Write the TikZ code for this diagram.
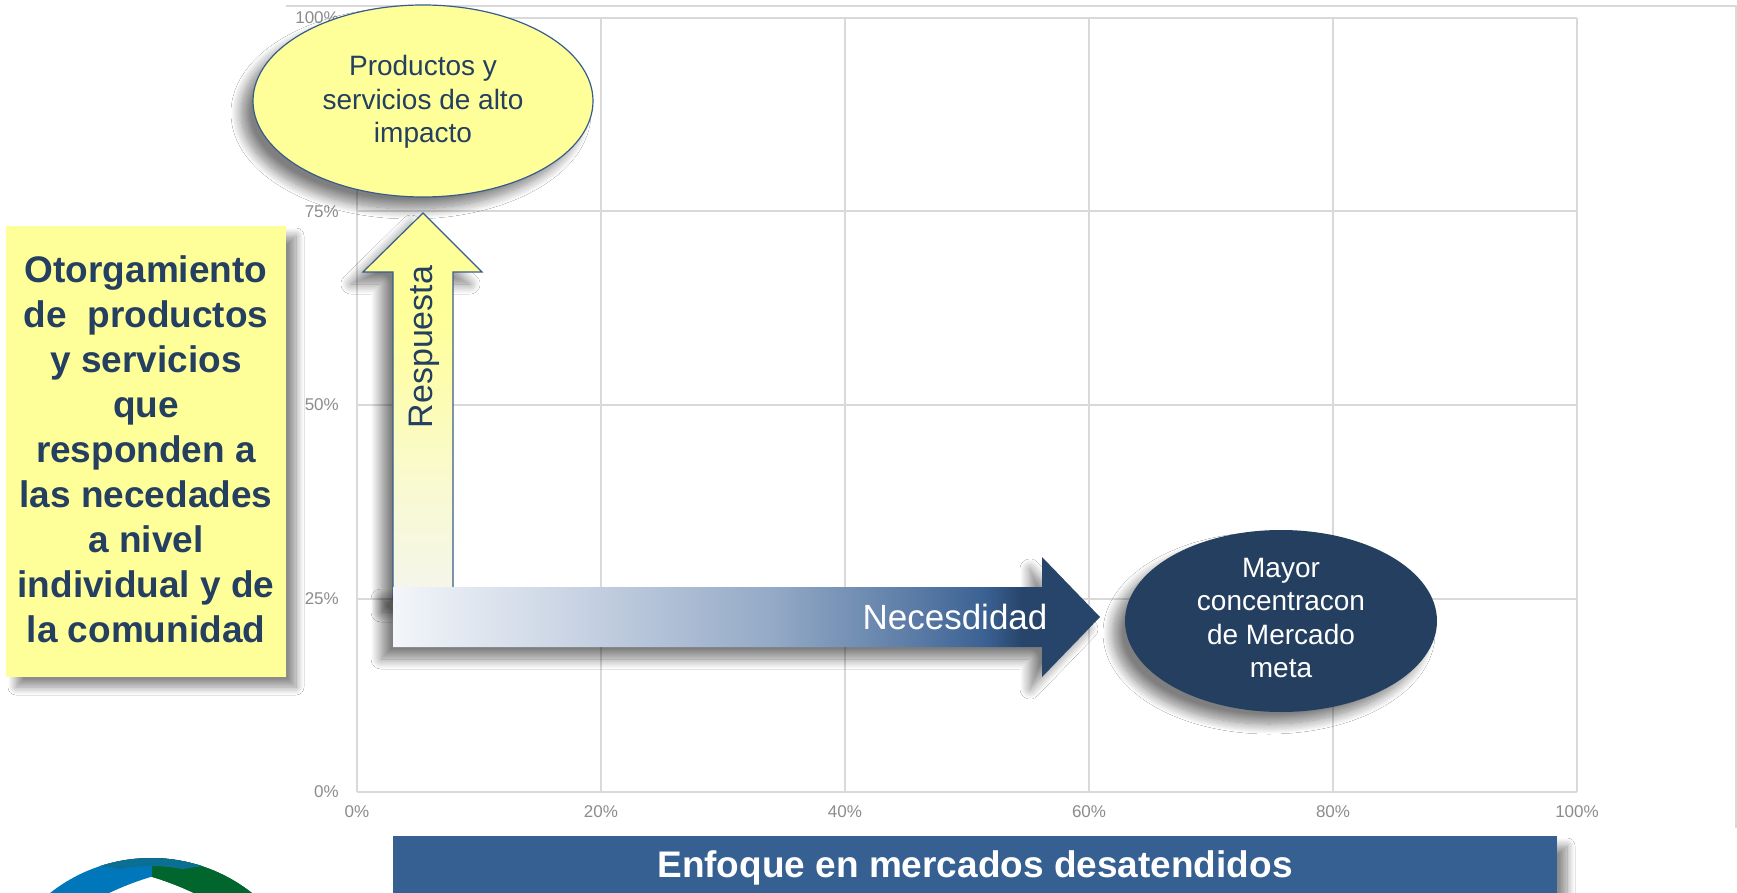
\documentclass[tikz,border=0pt]{standalone}
\usepackage{fontspec}
\setmainfont{Liberation Sans}
\usetikzlibrary{shadows.blur}
\definecolor{navy}{HTML}{243F60}
\definecolor{edgeblue}{HTML}{385D8A}
\definecolor{paleyel}{HTML}{FFFF99}
\definecolor{gridc}{HTML}{D9D9D9}
\definecolor{axisc}{HTML}{8C8C8C}
\definecolor{bannerc}{HTML}{366092}
\definecolor{logoblue}{HTML}{0077BA}
\definecolor{logogreen}{HTML}{00662D}
\definecolor{logoteal}{HTML}{0B6F93}
\definecolor{nA}{HTML}{F3F6FA}
\definecolor{nB}{HTML}{C8D3E3}
\definecolor{nC}{HTML}{93A9C6}
\definecolor{nD}{HTML}{5A7BA6}
\definecolor{nE}{HTML}{3A6092}
\definecolor{nF}{HTML}{27446A}
\definecolor{yA}{HTML}{F4F5EC}
\definecolor{yB}{HTML}{F9FAD0}
\definecolor{yC}{HTML}{FDFDAA}
\pgfdeclarehorizontalshading{necshade}{100bp}{color(0bp)=(nA); color(25bp)=(nA); color(38bp)=(nB); color(52bp)=(nC); color(62bp)=(nD); color(67bp)=(nE); color(69.5bp)=(nF); color(100bp)=(nF)}
\pgfdeclareverticalshading{respshade}{100bp}{color(0bp)=(yA); color(25bp)=(yA); color(40bp)=(yB); color(55bp)=(yC); color(62bp)=(paleyel); color(100bp)=(paleyel)}
\begin{document}
\begin{tikzpicture}[x=1pt,y=-1pt,
  gridline/.style={draw=gridc, line width=2pt},
  axislab/.style={text=axisc, font={\fontsize{17}{20}\selectfont}, inner sep=0pt},
  shadowLD/.style={blur shadow={shadow xshift=-12pt, shadow yshift=-12pt, shadow blur radius=10pt, shadow opacity=50, shadow blur steps=14}},
  shadowRD/.style={blur shadow={shadow xshift=10pt, shadow yshift=-10pt, shadow blur radius=8pt, shadow opacity=45, shadow blur steps=14}},
  ellText/.style={align=center, font={\fontsize{28}{33.5}\selectfont}, inner sep=0pt},
  bigBold/.style={align=center, font={\bfseries\fontsize{37}{45}\selectfont}, inner sep=0pt}]
\useasboundingbox (0,0) rectangle (1737,893);
\clip (0,0) rectangle (1737,893);
\fill[white] (0,0) rectangle (1737,893);
% grid
\foreach \k in {0,...,5} \draw[gridline] (357+244*\k,18) -- (357+244*\k,792);
\foreach \y in {18,211.5,405,598.5,792} \draw[gridline] (357,\y) -- (1577,\y);
% outer chart border
\draw[gridline] (286,6) -- (1736,6) -- (1736,828);
% axis labels
\foreach \v/\y in {0/792,25/598.5,50/405,75/211.5,100/18} \node[axislab, anchor=east] (yl\v) at (339,\y) {\v\%};
\foreach \v [count=\k from 0] in {0,20,40,60,80,100} \node[axislab] (xl\v) at (357+244*\k,812) {\v\%};
% yellow ellipse
\path[fill=paleyel, draw=edgeblue, line width=1.2pt, shadowLD] (423,101) ellipse [x radius=170, y radius=96];
\node[ellText, text=navy] (prod) at (423,102) {Productos y\\servicios de alto\\impacto};
% up arrow
\shade[shading=respshade, draw=edgeblue, line width=1.2pt, shadowLD] (423,213) -- (482,272) -- (453,272) -- (453,600) -- (393,600) -- (393,272) -- (363,272) -- cycle;
\node[rotate=90, text=navy, font={\fontsize{34}{40}\selectfont}, inner sep=0pt] (resp) at (424,347) {Respuesta};
% right arrow
\shade[shading=necshade, shadowLD] (393,587) -- (1042,587) -- (1042,557) -- (1100,617) -- (1042,677) -- (1042,647) -- (393,647) -- cycle;
\node[text=white, font={\fontsize{35}{40}\selectfont}, inner sep=0pt] (nec) at (955,617) {Necesdidad};
% navy ellipse
\path[fill=navy, shadowLD] (1281,621) ellipse [x radius=156, y radius=91];
\node[ellText, text=white] (mayor) at (1281,618) {Mayor\\concentracon\\de Mercado\\meta};
% left yellow box
\path[fill=paleyel, shadowRD] (6,226) rectangle (286,677);
\node[bigBold, text=navy] (otor) at (146,449) {Otorgamiento\\de~ productos\\y servicios\\que\\responden a\\las necedades\\a nivel\\individual y de\\la comunidad};
% bottom banner
\path[fill=bannerc, shadowRD] (393,836) rectangle (1557,905);
\node[bigBold, text=white] (enf) at (975,868) {Enfoque en mercados desatendidos};
% logo
\begin{scope}
 \clip (151,1021) circle [radius=163];
 \fill[logogreen, even odd rule] (-100,700) rectangle (500,1300) (64.2,1168) circle [radius=304];
 \fill[logoblue, even odd rule] (-100,700) rectangle (500,1300) (238.8,1168) circle [radius=304];
 \begin{scope}
  \clip (152,700) rectangle (500,1300);
  \fill[logogreen, even odd rule] (-100,700) rectangle (500,1300) (64.2,1168) circle [radius=304];
 \end{scope}
 \begin{scope}[even odd rule]
  \clip (-100,700) rectangle (500,1300) (238.8,1168) circle [radius=304];
  \clip (-100,700) rectangle (500,1300) (64.2,1168) circle [radius=304];
  \fill[logoteal] (151,1021) circle [radius=164] (151,1021) circle [radius=155];
 \end{scope}
\end{scope}
\end{tikzpicture}
\end{document}
